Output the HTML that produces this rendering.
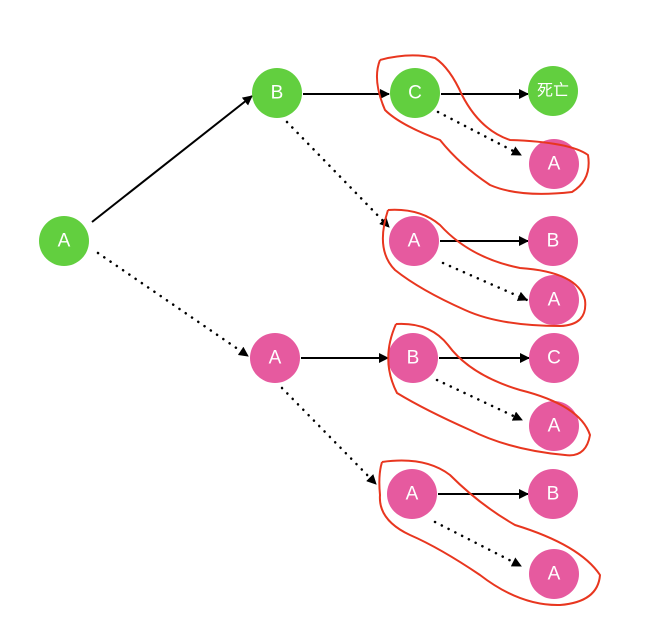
<!DOCTYPE html>
<html><head><meta charset="utf-8"><style>
html,body{margin:0;padding:0;background:#fff;}
svg{display:block;}
text{font-family:"Liberation Sans","Noto Sans CJK SC",sans-serif;fill:#fff;font-size:19px;text-anchor:middle;dominant-baseline:central;}
</style></head><body>
<svg width="655" height="618" viewBox="0 0 655 618" xmlns="http://www.w3.org/2000/svg">
<defs>
<marker id="ar" markerWidth="10" markerHeight="10" refX="9" refY="5" orient="auto" markerUnits="userSpaceOnUse" viewBox="0 0 10 10">
<path d="M0,0 L10,5 L0,10 z" fill="#000"/></marker>
</defs>
<g stroke="#000" stroke-width="2" fill="none">
<line x1="92" y1="222" x2="252" y2="96" marker-end="url(#ar)"/>
<line x1="303" y1="94" x2="389" y2="94" marker-end="url(#ar)"/>
<line x1="441" y1="94" x2="528" y2="94" marker-end="url(#ar)"/>
<line x1="440" y1="241" x2="528" y2="241" marker-end="url(#ar)"/>
<line x1="301" y1="358" x2="388" y2="358" marker-end="url(#ar)"/>
<line x1="439" y1="358" x2="529" y2="358" marker-end="url(#ar)"/>
<line x1="438" y1="494" x2="528" y2="494" marker-end="url(#ar)"/>
</g>
<g stroke="#000" stroke-width="2.5" fill="none" stroke-dasharray="0.1 7.5" stroke-linecap="round">
<line x1="98" y1="253" x2="248" y2="356" marker-end="url(#ar)"/>
<line x1="287" y1="122" x2="389" y2="227" marker-end="url(#ar)"/>
<line x1="438" y1="112" x2="521" y2="155" marker-end="url(#ar)"/>
<line x1="443" y1="263" x2="527" y2="300" marker-end="url(#ar)"/>
<line x1="282" y1="388" x2="376" y2="484" marker-end="url(#ar)"/>
<line x1="437" y1="380" x2="522" y2="420" marker-end="url(#ar)"/>
<line x1="435" y1="522" x2="521" y2="566" marker-end="url(#ar)"/>
</g>
<g fill="#62cf3f">
<circle cx="64" cy="241" r="25"/><circle cx="277" cy="93" r="25"/><circle cx="415" cy="93" r="25"/><circle cx="553" cy="91" r="25"/>
</g>
<g fill="#e65a9f">
<circle cx="554" cy="164" r="25"/><circle cx="414" cy="241" r="25"/><circle cx="553" cy="241" r="25"/><circle cx="554" cy="300" r="25"/>
<circle cx="275" cy="358" r="25"/><circle cx="413" cy="358" r="25"/><circle cx="554" cy="358" r="25"/><circle cx="554" cy="426" r="25"/>
<circle cx="412" cy="494" r="25"/><circle cx="553" cy="494" r="25"/><circle cx="554" cy="574" r="25"/>
</g>
<text x="64" y="241">A</text><text x="277" y="93">B</text><text x="415" y="93">C</text><text x="553" y="91" style="font-size:16px">死亡</text>
<text x="554" y="164">A</text><text x="414" y="241">A</text><text x="553" y="241">B</text><text x="554" y="300">A</text>
<text x="275" y="358">A</text><text x="413" y="358">B</text><text x="554" y="358">C</text><text x="554" y="426">A</text>
<text x="412" y="494">A</text><text x="553" y="494">B</text><text x="554" y="574">A</text>
<g stroke="#e8361f" stroke-width="2" fill="none" stroke-linejoin="round">
<path d="M380,60 Q410,52 435,58 Q450,68 462,95 Q480,130 510,140 Q570,142 588,155 Q592,180 572,192 Q520,198 490,185 Q460,165 440,140 Q400,125 385,110 Q372,80 380,60"/>
<path d="M388,210 Q420,208 440,225 Q470,258 520,268 Q578,272 585,300 Q588,325 560,326 Q500,326 465,310 Q420,290 395,270 Q375,250 388,210"/>
<path d="M396,324 Q430,322 448,345 Q470,375 520,390 Q580,405 590,435 Q586,458 565,455 Q510,450 470,430 Q425,410 397,393 Q380,360 396,324"/>
<path d="M382,462 Q425,456 450,475 Q480,505 515,525 Q580,545 600,575 Q598,602 560,605 Q520,606 480,575 Q440,548 410,535 Q378,520 380,495 Q378,475 382,462"/>
</g>
</svg>
</body></html>
